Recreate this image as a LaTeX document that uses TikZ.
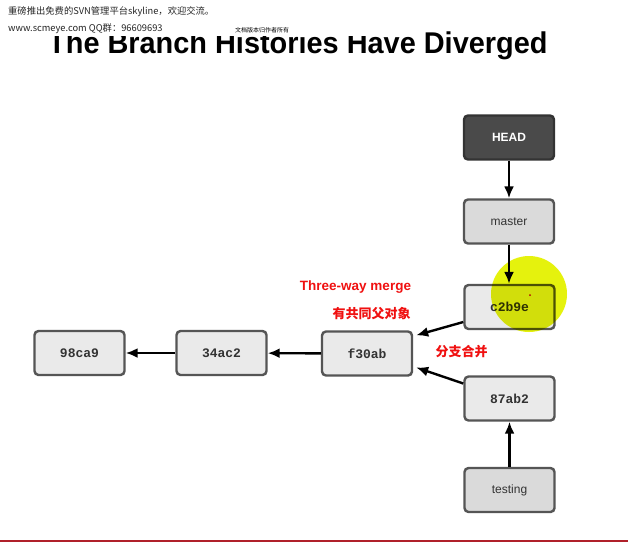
\documentclass[tikz,border=0pt]{standalone}
\usepackage{fontspec}
\setmainfont{Liberation Sans}
\newfontfamily\cjk{Noto Sans CJK SC}
\newfontfamily\monob{Liberation Mono}
\usetikzlibrary{arrows.meta,calc}
\definecolor{boxline}{HTML}{555555}
\definecolor{commitfill}{HTML}{EAEAEA}
\definecolor{reffill}{HTML}{DADADA}
\definecolor{headfill}{HTML}{4A4A4A}
\definecolor{hl}{HTML}{E4F200}
\definecolor{redtxt}{HTML}{F01010}
\definecolor{barred}{HTML}{B0202A}
\tikzset{
  box/.style={draw=boxline, line width=2.4pt, rounded corners=4pt, minimum width=90pt, minimum height=44pt, inner sep=0pt},
  commit/.style={box, fill=commitfill, font=\monob\bfseries\fontsize{13}{13}\selectfont, text=black!80},
  refbox/.style={box, fill=reffill, font=\fontsize{12}{12}\selectfont, text=black!80},
  headbox/.style={box, fill=headfill, draw=black!80, font=\bfseries\fontsize{12}{12}\selectfont, text=white},
  arr/.style={line width=2.4pt, -{Latex[length=12pt,width=10pt]}},
  redlabel/.style={text=redtxt, font=\bfseries\fontsize{13.5}{13.5}\selectfont, inner sep=0pt},
  redcjk/.style={text=redtxt, font=\cjk\bfseries\fontsize{13}{13}\selectfont, inner sep=0pt},
  wm/.style={font=\cjk\fontsize{9.3}{9.3}\selectfont, inner sep=0pt, anchor=west, text=black!85}
}
\begin{document}
\begin{tikzpicture}[x=1pt,y=-1pt]
\useasboundingbox (0,0) rectangle (628,542);
\fill[white] (0,0) rectangle (628,542);
% title
\node[anchor=base west, inner sep=0pt, font=\bfseries\fontsize{30}{30}\selectfont] (title) at (48,53) {\scalebox{0.963}[1]{The Branch Histories Have Diverged}};
\fill[white] (0,0) rectangle (400,36);
% watermark
\node[wm] (wm1) at (8,12) {重磅推出免费的SVN管理平台skyline，欢迎交流。};
\node[wm] (wm2) at (8,28.5) {www.scmeye.com QQ群：96609693};
\node[font=\cjk\fontsize{6}{6}\selectfont, inner sep=0pt] (wm3) at (262,30) {文档版本归作者所有};
% boxes
\node[headbox] (head) at (509,137.5) {HEAD};
\node[refbox] (master) at (509,221.5) {master};
\node[commit] (c2b9e) at (509.5,307) {c2b9e};
\node[commit] (f30ab) at (367,353.5) {f30ab};
\node[commit] (b87ab2) at (509.5,398.5) {87ab2};
\node[refbox] (testing) at (509.5,490) {testing};
\node[commit] (a98ca9) at (79.5,353) {98ca9};
\node[commit] (a34ac2) at (221.5,353) {34ac2};
% highlight
\fill[hl, opacity=0.95, blend mode=multiply] (529,294) circle (38);
\fill[red!70!black] (530,295) circle (1);
% arrows
\draw[arr] (head) -- (master);
\draw[arr] (master) -- (master |- c2b9e.north);
\draw[arr] (testing) -- (testing |- b87ab2.south);
\draw[arr] (a34ac2) -- (a98ca9);
\draw[arr] (f30ab) -- (a34ac2);
\draw[arr] ($(c2b9e.west)+(0,15)$) -- ($(f30ab.north east)+(3,5)$);
\draw[arr] ($(b87ab2.west)+(0,-15)$) -- ($(f30ab.east)+(3,14)$);
% labels
\node[redlabel] (twm) at (355.5,287) {Three-way merge};
\node[redcjk] (common) at (371.5,314) {有共同父对象};
\node[redcjk] (mergecn) at (461.5,352) {分支合并};
% bottom bar
\fill[barred] (0,539.5) rectangle (628,542);
\end{tikzpicture}
\end{document}
